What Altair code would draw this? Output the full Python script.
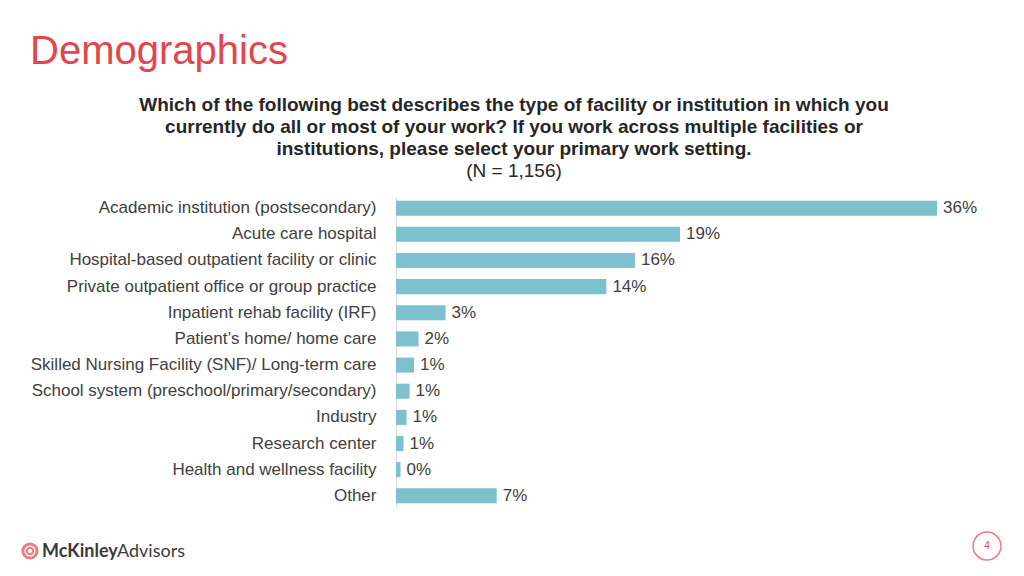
import altair as alt
import pandas as pd

categories = [
    "Academic institution (postsecondary)",
    "Acute care hospital",
    "Hospital-based outpatient facility or clinic",
    "Private outpatient office or group practice",
    "Inpatient rehab facility (IRF)",
    "Patient\u2019s home/ home care",
    "Skilled Nursing Facility (SNF)/ Long-term care",
    "School system (preschool/primary/secondary)",
    "Industry",
    "Research center",
    "Health and wellness facility",
    "Other",
]
values = [36.0, 18.9, 15.9, 14.0, 3.3, 1.5, 1.2, 0.9, 0.7, 0.5, 0.3, 6.7]
labels = ["36%", "19%", "16%", "14%", "3%", "2%", "1%", "1%", "1%", "1%", "0%", "7%"]

title_text = "Demographics"
question_lines = [
    "Which of the following best describes the type of facility or institution in which you",
    "currently do all or most of your work? If you work across multiple facilities or",
    "institutions, please select your primary work setting.",
]
n_text = "(N = 1,156)"

df = pd.DataFrame({"cat": categories, "val": values, "lab": labels})

FONT = "Liberation Sans"
BAR = "#7DC0CE"
RED = "#E0474C"
TXT = "#404040"

x_enc = alt.X("val:Q", scale=alt.Scale(domain=[0, 36], nice=False), axis=None)
y_enc = alt.Y(
    "cat:N",
    sort=categories,
    scale=alt.Scale(paddingInner=0.425, paddingOuter=0.14),
    axis=alt.Axis(
        title=None, ticks=False, domain=True, domainColor="#D9D9D9", domainWidth=1,
        labelFont=FONT, labelFontSize=17, labelColor=TXT, labelPadding=20, labelLimit=420,
    ),
)

bars = alt.Chart(df).mark_bar(color=BAR).encode(x=x_enc, y=y_enc)
vals = alt.Chart(df).mark_text(
    align="left", baseline="middle", dx=6, font=FONT, fontSize=17, color=TXT
).encode(x=x_enc, y=y_enc, text="lab:N")

one = alt.Data(values=[{}])

title = alt.Chart(one).mark_text(
    align="left", baseline="alphabetic", font=FONT, fontSize=40, color=RED
).encode(x=alt.value(-366), y=alt.value(-133), text=alt.value(title_text))

qlayers = []
for i, line in enumerate(question_lines):
    qlayers.append(
        alt.Chart(one).mark_text(
            align="center", baseline="alphabetic", font=FONT, fontSize=19,
            fontWeight="bold", color="#262626"
        ).encode(x=alt.value(118), y=alt.value(-86 + 22 * i), text=alt.value(line))
    )
ntext = alt.Chart(one).mark_text(
    align="center", baseline="alphabetic", font=FONT, fontSize=19, color="#262626"
).encode(x=alt.value(118), y=alt.value(-20), text=alt.value(n_text))

logo_icon = alt.Chart(one).mark_point(
    shape="circle", filled=False, color=RED, strokeWidth=3, size=200
).encode(x=alt.value(-366), y=alt.value(354))
logo_icon2 = alt.Chart(one).mark_point(
    shape="circle", filled=False, color=RED, strokeWidth=2, size=40
).encode(x=alt.value(-366), y=alt.value(354))
logo_a = alt.Chart(one).mark_text(
    align="left", baseline="alphabetic", font="Lato", fontSize=18, fontWeight="bold", color="#3A3A3A"
).encode(x=alt.value(-354), y=alt.value(360), text=alt.value("McKinley"))
logo_b = alt.Chart(one).mark_text(
    align="left", baseline="alphabetic", font="Lato", fontSize=18, color="#3A3A3A"
).encode(x=alt.value(-279), y=alt.value(360), text=alt.value("Advisors"))

page_circle = alt.Chart(one).mark_point(
    shape="circle", filled=False, color=RED, strokeWidth=1.5, size=780
).encode(x=alt.value(591), y=alt.value(349))
page_num = alt.Chart(one).mark_text(
    align="center", baseline="middle", font=FONT, fontSize=10, color=RED
).encode(x=alt.value(591), y=alt.value(349), text=alt.value("4"))

chart = alt.layer(
    bars, vals, title, *qlayers, ntext, logo_icon, logo_icon2, logo_a, logo_b, page_circle, page_num
).properties(
    width=541, height=310,
    background="white",
    autosize=alt.AutoSizeParams(type="none"),
    padding={"left": 388, "top": 189, "right": 79, "bottom": 61},
).configure_view(strokeWidth=0, stroke=None)

chart.save("out.html", embed_options={"renderer": "svg", "actions": False})
